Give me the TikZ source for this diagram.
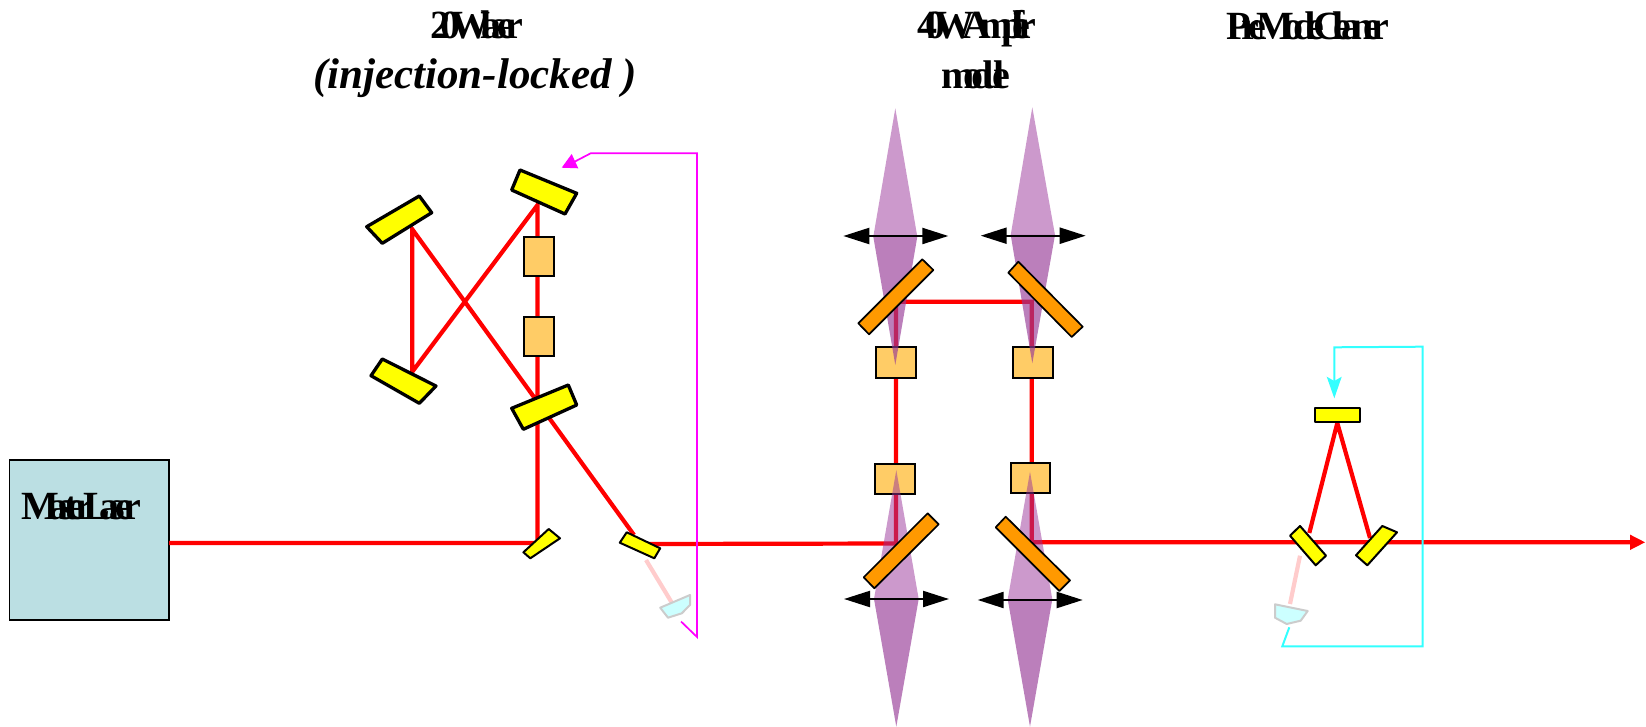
\documentclass[tikz,border=0pt]{standalone}
\usepackage{fontspec}
\setmainfont{Liberation Serif}
\usetikzlibrary{arrows.meta}
\newcommand{\tightset}[1]{\addfontfeature{LetterSpace=#1}}
\newcommand{\wordgap}{\kern-10pt{} }
\definecolor{beamred}{HTML}{FF0000}
\definecolor{mirroryellow}{HTML}{FFFF00}
\definecolor{gainorange}{HTML}{FFCC66}
\definecolor{bsorange}{HTML}{FF9900}
\definecolor{lasercyan}{HTML}{BBDFE3}
\definecolor{pdcyan}{HTML}{CCFFFF}
\definecolor{pdgray}{HTML}{CCCCCC}
\definecolor{pinkbeam}{HTML}{FFCCCC}
\definecolor{fbmag}{HTML}{FF00FF}
\definecolor{fbcyan}{HTML}{33FFFF}
\definecolor{pumpA}{HTML}{993399}
\definecolor{pumpB}{HTML}{963A96}
\tikzset{
  beam/.style={draw=beamred,line width=4.2pt},
  weakbeam/.style={draw=pinkbeam,line width=4.2pt},
  heavymirror/.style={draw=black,fill=mirroryellow,line width=3.3pt,line join=round},
  lightmirror/.style={draw=black,fill=mirroryellow,line width=2pt,line join=round},
  splitter/.style={draw=black,fill=bsorange,line width=1.7pt,line join=round},
  gainbox/.style={draw=black,fill=gainorange,line width=2pt,minimum width=#1,inner sep=0pt},
  detector/.style={draw=pdgray,fill=pdcyan,line width=2pt,line join=round},
  pumplight/.style={fill=pumpA,fill opacity=.5},
  pumpdark/.style={fill=pumpB,fill opacity=.65},
  lensarrow/.style={draw=black,line width=2.2pt,{Triangle[length=26pt,width=16pt]}-{Triangle[length=26pt,width=16pt]},shorten <=0pt},
  fbm/.style={draw=fbmag,line width=1.7pt,line join=miter},
  fbc/.style={draw=fbcyan,line width=2pt,line join=miter},
  title/.style={anchor=base,inner sep=0pt,font=\fontsize{40}{40}\selectfont\bfseries}
}
\begin{document}
\begin{tikzpicture}[x=1pt,y=-1pt]
\useasboundingbox (0,0) rectangle (1646,727);
% named beam points
\coordinate (mlout) at (169,543);
\coordinate (e) at (537.5,543);
\coordinate (topr) at (537.5,205);
\coordinate (xa) at (412.3,229.3);
\coordinate (xc) at (412.3,371.7);
\coordinate (f) at (634,535);
\coordinate (f2) at (647,544);
\coordinate (a1) at (896,543.5);
\coordinate (a2) at (896,301.7);
\coordinate (a3) at (1031.7,301.7);
\coordinate (a4) at (1031.7,542.3);
\coordinate (out) at (1645,542.3);
\coordinate (pa) at (1337.3,423);
\coordinate (pl) at (1309.3,533);
\coordinate (pr) at (1370,538);
% laser box
\node[draw=black,fill=lasercyan,line width=1.5pt,minimum width=159.6pt,minimum height=159.6pt,inner sep=0pt] (master) at (89.2,540) {};
% beams
\draw[beam] (mlout) -- (e) -- (topr) -- (xc) -- (xa) -- (f);
\draw[beam] (f2) -- (a1) -- (a2) -- (a3) -- (a4) -- (1632,542.3);
\draw[beam] (pl) -- (pa) -- (pr);
\fill[beamred] (out) -- (1630,534.6) -- (1630,550) -- cycle;
\draw[weakbeam] (646,560) -- (672,603);
\draw[weakbeam] (1300,555.7) -- (1290,604);
% gain media
\node[gainbox=30.3pt,minimum height=39.3pt] (g1) at (539.2,256.4) {};
\node[gainbox=30.3pt,minimum height=39.3pt] (g2) at (539.2,336.4) {};
\node[gainbox=40pt,minimum height=30.7pt] (g3) at (896,362.4) {};
\node[gainbox=39.4pt,minimum height=30.7pt] (g4) at (1033,362.4) {};
\node[gainbox=40pt,minimum height=30.3pt] (g5) at (895,478.9) {};
\node[gainbox=39.6pt,minimum height=30.3pt] (g6) at (1030.5,478.2) {};
% pump light
\fill[pumplight] (895.3,108.3) -- (917.3,236.7) -- (873.3,236.7) -- cycle;
\fill[pumpdark] (873.3,236.7) -- (917.3,236.7) -- (895.3,365) -- cycle;
\fill[pumplight] (1032.3,107.3) -- (1055,235) -- (1010.7,235) -- cycle;
\fill[pumpdark] (1010.7,235) -- (1055,235) -- (1032.3,363.3) -- cycle;
\fill[pumplight] (896.3,470) -- (918.7,599) -- (874,599) -- cycle;
\fill[pumpdark] (874,599) -- (918.7,599) -- (896.3,726.7) -- cycle;
\fill[pumplight] (1030,471.7) -- (1052.3,599.3) -- (1007.7,599.3) -- cycle;
\fill[pumpdark] (1007.7,599.3) -- (1052.3,599.3) -- (1030,726.7) -- cycle;
% lens arrows
\coordinate (l1a) at (843.3,236); \coordinate (l1b) at (948.3,236);
\coordinate (l2a) at (980.7,235.7); \coordinate (l2b) at (1085.7,235.7);
\coordinate (l3a) at (844,599); \coordinate (l3b) at (949,599);
\coordinate (l4a) at (977.7,600); \coordinate (l4b) at (1082.7,600);
\draw[lensarrow] (l1a) -- (l1b);
\draw[lensarrow] (l2a) -- (l2b);
\draw[lensarrow] (l3a) -- (l3b);
\draw[lensarrow] (l4a) -- (l4b);
% dichroic mirrors
\draw[splitter] (922.3,259.3) -- (933.3,270) -- (869,334.3) -- (858.3,323.3) -- cycle;
\draw[splitter] (1018.3,261.7) -- (1008.3,272.7) -- (1071.7,337) -- (1082.7,326.7) -- cycle;
\draw[splitter] (927.7,513.3) -- (938.7,524.3) -- (874.3,588.3) -- (863.7,577.3) -- cycle;
\draw[splitter] (1005.7,516.7) -- (995.7,527.3) -- (1059.3,591) -- (1070,580.3) -- cycle;
% cavity mirrors
\draw[heavymirror] (366.7,226.7) -- (419.3,196) -- (431.7,212.7) -- (382.3,243.3) -- cycle;
\draw[heavymirror] (520,170) -- (576.7,193.3) -- (565,214) -- (511.7,190) -- cycle;
\draw[heavymirror] (382.3,359) -- (436,386) -- (419.3,403.3) -- (371,375.7) -- cycle;
\draw[heavymirror] (511.7,408.3) -- (568.3,385) -- (576.7,405) -- (523.3,429.3) -- cycle;
\draw[lightmirror] (548.7,529) -- (560,538.3) -- (530.3,558.3) -- (523.4,552.3) -- cycle;
\draw[lightmirror] (626.7,532.3) -- (660.2,548.3) -- (654.3,558.3) -- (619.8,542.7) -- cycle;
\node[lightmirror,minimum width=45.3pt,minimum height=14pt,inner sep=0pt] (pmctop) at (1337.6,415.3) {};
\draw[lightmirror] (1300,526) -- (1326,555.7) -- (1315.7,565.3) -- (1290,535.7) -- cycle;
\draw[lightmirror] (1382.3,526) -- (1397,532.3) -- (1367.3,565.3) -- (1356,555.3) -- cycle;
% detectors
\draw[detector] (660.2,607.7) -- (690,595) -- (690,605) -- (681.8,613.3) -- (668,617.7) -- cycle;
\draw[detector] (1275,604.3) -- (1307.7,611) -- (1300.7,620.7) -- (1286.7,624) -- (1275,617.7) -- cycle;
% feedback loops
\draw[fbm] (681,621.5) -- (697,637) -- (697,153.3) -- (590.7,153.3) -- (574,162);
\fill[fbmag] (561.7,167.7) -- (578.3,168.3) -- (571.7,154) -- cycle;
\draw[fbc] (1289.3,627.3) -- (1282.3,646.3) -- (1422.7,646.3) -- (1422.7,346.7) -- (1334.3,347.3) -- (1334.3,385);
\fill[fbcyan] (1334.3,398.3) -- (1326.7,376.7) -- (1334.3,381) -- (1341.7,376.7) -- cycle;
% labels
\node[title] (t1) at (476.7,38.5) {\tightset{-25}20W\wordgap laser};
\node[anchor=base,inner sep=0pt,font=\fontsize{43}{43}\selectfont\bfseries\itshape] (t2) at (475,88.5) {(injection-locked )};
\node[title] (t3) at (976.7,39) {\tightset{-29}40W\wordgap Amplifier};
\node[title] (t4) at (976,88.5) {\tightset{-29}module};
\node[title] (t5) at (1308,40) {\tightset{-25}Pre\wordgap Mode\wordgap Cleaner};
\node[title] (t6) at (81,519) {\tightset{-25}Master\wordgap Laser};
\end{tikzpicture}
\end{document}
